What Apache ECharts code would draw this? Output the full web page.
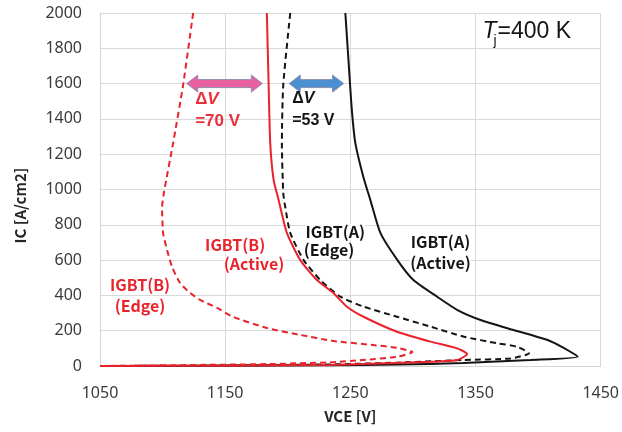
<!DOCTYPE html>
<html>
<head>
<meta charset="utf-8">
<script src="https://cdn.jsdelivr.net/npm/echarts@6/dist/echarts.min.js"></script>
<style>
  html, body { margin: 0; padding: 0; background: #ffffff; }
  #chart { width: 622px; height: 432px; }
</style>
</head>
<body>
<div id="chart"></div>
<script>
// Axis ranges and ticks
const vceTicks = [1050, 1150, 1250, 1350, 1450];
const icTicks = [0, 200, 400, 600, 800, 1000, 1200, 1400, 1600, 1800, 2000];

// Turn-off trajectories: [VCE (V), IC (A/cm2)]
const igbtA_active = [
  [1246, 2000], [1248.8, 1700], [1251.2, 1450], [1254, 1263], [1260.4, 1071],
  [1266, 940], [1274, 754], [1287.6, 600], [1300.4, 487], [1319.6, 391],
  [1335.6, 317], [1354, 261], [1380.4, 204], [1407.6, 147], [1420.4, 102],
  [1431.6, 52], [1394, 34], [1340, 17], [1287, 8], [1234, 4], [1150, 1], [1050, 0]
];
const igbtA_edge = [
  [1202, 2000], [1196.4, 1592], [1195.3, 1263], [1196.4, 980], [1198, 900],
  [1202, 754], [1212.7, 600], [1226, 487], [1242, 393], [1260.7, 336],
  [1287.3, 279], [1314, 223], [1340.7, 166], [1367.3, 129], [1383.3, 109],
  [1392.7, 72], [1378, 43], [1340.7, 34], [1287.3, 19], [1234, 9],
  [1150, 3], [1050, 0]
];
const igbtB_active = [
  [1183.3, 2000], [1184.7, 1600], [1186, 1263], [1188.7, 1054], [1192.7, 940],
  [1199.3, 754], [1210, 600], [1223.3, 487], [1236.4, 414], [1247.3, 336],
  [1260.5, 279], [1287.3, 194], [1314, 138], [1335.3, 100], [1343.3, 68],
  [1335.6, 34], [1314, 24], [1260, 11], [1234, 6], [1150, 2], [1050, 0]
];
const igbtB_edge = [
  [1124.4, 2000], [1116.4, 1592], [1108.4, 1263], [1101, 980], [1099.6, 900],
  [1100.4, 754], [1103.6, 657], [1107.6, 561], [1114, 470], [1122, 414],
  [1130, 374], [1143.6, 329], [1156.4, 278], [1183.6, 215], [1210, 176],
  [1236.4, 142], [1268, 119], [1288, 102], [1299.6, 79], [1288, 53],
  [1260, 34], [1234, 21], [1184, 11], [1130, 6], [1050, 0]
];

// Voltage gaps at IC = 1600 A/cm2 (edge -> active)
const deltaFrom = [1114.5, 1196.4];
const deltaValue = [70, 53];
const deltaIc = [1600, 1600];

const RED = '#e8232b';
const BLACK = '#141414';
const LABEL_FONT = '"Noto Sans CJK JP", "Noto Sans", sans-serif';

const chart = echarts.init(document.getElementById('chart'), null, { renderer: 'canvas' });

function curve(name, data, color, dashed) {
  return {
    name: name,
    type: 'line',
    data: data,
    showSymbol: false,
    smooth: 0.2,
    animation: false,
    lineStyle: { color: color, width: 2, type: dashed ? [6, 4] : 'solid' },
    z: 3
  };
}

function renderArrow(params, api) {
  const a = api.coord([api.value(0), api.value(1)]);
  const b = api.coord([api.value(2), api.value(1)]);
  const inset = 6, head = 11, bodyH = 4, headH = 8.5;
  const x0 = a[0] + inset, x1 = b[0] - inset, y = a[1];
  const pts = [
    [x0, y], [x0 + head, y - headH], [x0 + head, y - bodyH], [x1 - head, y - bodyH],
    [x1 - head, y - headH], [x1, y], [x1 - head, y + headH], [x1 - head, y + bodyH],
    [x0 + head, y + bodyH], [x0 + head, y + headH]
  ];
  const fills = ['#e9609e', '#4a8fd2'];
  return {
    type: 'polygon',
    shape: { points: pts },
    style: { fill: fills[params.dataIndex], stroke: '#8c90ad', lineWidth: 1 }
  };
}

const arrowData = deltaFrom.map((v, i) => [v, deltaIc[i], v + deltaValue[i]]);
const plainNumber = v => String(v);

chart.setOption({
  backgroundColor: '#ffffff',
  animation: false,
  grid: { left: 100, right: 21, top: 13, bottom: 66, containLabel: false },
  xAxis: {
    type: 'value',
    min: vceTicks[0],
    max: vceTicks[vceTicks.length - 1],
    interval: vceTicks[1] - vceTicks[0],
    name: 'VCE [V]',
    nameLocation: 'middle',
    nameGap: 43,
    nameTextStyle: { fontFamily: LABEL_FONT, fontSize: 15, fontWeight: 'bold', color: '#262626' },
    axisLine: { show: true, lineStyle: { color: '#d4d4d4', width: 1 } },
    axisTick: { show: false },
    axisLabel: { margin: 19, fontFamily: '"Noto Sans", sans-serif', fontSize: 16, color: '#3a3a3a', formatter: plainNumber },
    splitLine: { show: true, lineStyle: { color: '#d9d9d9', width: 1 } }
  },
  yAxis: {
    type: 'value',
    min: icTicks[0],
    max: icTicks[icTicks.length - 1],
    interval: icTicks[1] - icTicks[0],
    axisLine: { show: true, lineStyle: { color: '#d4d4d4', width: 1 } },
    axisTick: { show: false },
    axisLabel: { margin: 18, fontFamily: '"Noto Sans", sans-serif', fontSize: 16, color: '#3a3a3a', formatter: plainNumber },
    splitLine: { show: true, lineStyle: { color: '#d9d9d9', width: 1 } }
  },
  series: [
    curve('IGBT(A) Active', igbtA_active, BLACK, false),
    curve('IGBT(A) Edge', igbtA_edge, BLACK, true),
    curve('IGBT(B) Active', igbtB_active, RED, false),
    curve('IGBT(B) Edge', igbtB_edge, RED, true),
    {
      type: 'custom',
      name: 'deltaV',
      data: arrowData,
      renderItem: renderArrow,
      encode: { x: [0, 2], y: 1 },
      z: 4,
      silent: true
    }
  ]
});

// Text annotations anchored in data coordinates
const notes = [
  { t: 'IGBT(B)', at: [1082, 459], c: RED },
  { t: '(Edge)', at: [1082, 340], c: RED },
  { t: 'IGBT(B)', at: [1158, 686], c: RED },
  { t: '(Active)', at: [1173, 578], c: RED },
  { t: 'IGBT(A)', at: [1238, 759], c: BLACK },
  { t: '(Edge)', at: [1233, 657], c: BLACK },
  { t: 'IGBT(A)', at: [1322, 703], c: BLACK },
  { t: '(Active)', at: [1322, 584], c: BLACK }
];
const deltaLabelAt = [[1126, 1451], [1203.6, 1451]];
const deltaColors = ['#e8303a', BLACK];
const deltaSizes = [17, 16];

const px = p => chart.convertToPixel({ gridIndex: 0 }, p);
const elements = [];
notes.forEach(n => {
  const p = px(n.at);
  elements.push({
    type: 'text', x: p[0], y: p[1], z: 10, silent: true,
    style: {
      text: n.t, fill: n.c, font: 'bold 16px ' + LABEL_FONT,
      textAlign: 'center', textVerticalAlign: 'middle', align: 'center', verticalAlign: 'middle',
      backgroundColor: 'rgba(255,255,255,0.75)'
    }
  });
});
deltaLabelAt.forEach((at, i) => {
  const p = px(at);
  const fs = deltaSizes[i];
  const base = { fontSize: fs, fontWeight: 'bold', fontFamily: '"Liberation Sans", Arial, sans-serif', fill: deltaColors[i], lineHeight: 22 };
  elements.push({
    type: 'text', x: p[0], y: p[1], z: 10, silent: true,
    style: {
      text: '{d|Δ}{v|V}\n{n|=' + deltaValue[i] + ' V}',
      fill: deltaColors[i],
      textAlign: 'left', textVerticalAlign: 'middle', align: 'left', verticalAlign: 'top',
      rich: { d: base, v: Object.assign({}, base, { fontStyle: 'italic' }), n: base }
    }
  });
});

// Y axis title
const plotTop = px([vceTicks[0], icTicks[icTicks.length - 1]])[1];
const plotBottom = px([vceTicks[0], icTicks[0]])[1];
elements.push({
  type: 'text', x: 20, y: (plotTop + plotBottom) / 2 + 16, rotation: Math.PI / 2, z: 10, silent: true,
  style: {
    text: 'IC [A/cm2]', fill: '#262626', font: 'bold 15px ' + LABEL_FONT,
    textAlign: 'center', textVerticalAlign: 'middle', align: 'center', verticalAlign: 'middle'
  }
});

// Junction temperature tag
const tj = px([1355.6, 1893]);
elements.push(
  { type: 'text', x: tj[0], y: tj[1], z: 10, silent: true,
    style: { text: 'T', fill: BLACK, font: 'italic 23px "Liberation Sans", Arial, sans-serif', textAlign: 'left', textVerticalAlign: 'middle', align: 'left', verticalAlign: 'middle' } },
  { type: 'text', x: tj[0] + 11, y: tj[1] + 9, z: 10, silent: true,
    style: { text: 'j', fill: BLACK, font: '14px "Liberation Sans", Arial, sans-serif', textAlign: 'left', textVerticalAlign: 'middle', align: 'left', verticalAlign: 'middle' } },
  { type: 'text', x: tj[0] + 15, y: tj[1], z: 10, silent: true,
    style: { text: '=400 K', fill: BLACK, font: '23px "Liberation Sans", Arial, sans-serif', textAlign: 'left', textVerticalAlign: 'middle', align: 'left', verticalAlign: 'middle' } }
);

chart.setOption({ graphic: { elements: elements } });
</script>
</body>
</html>
